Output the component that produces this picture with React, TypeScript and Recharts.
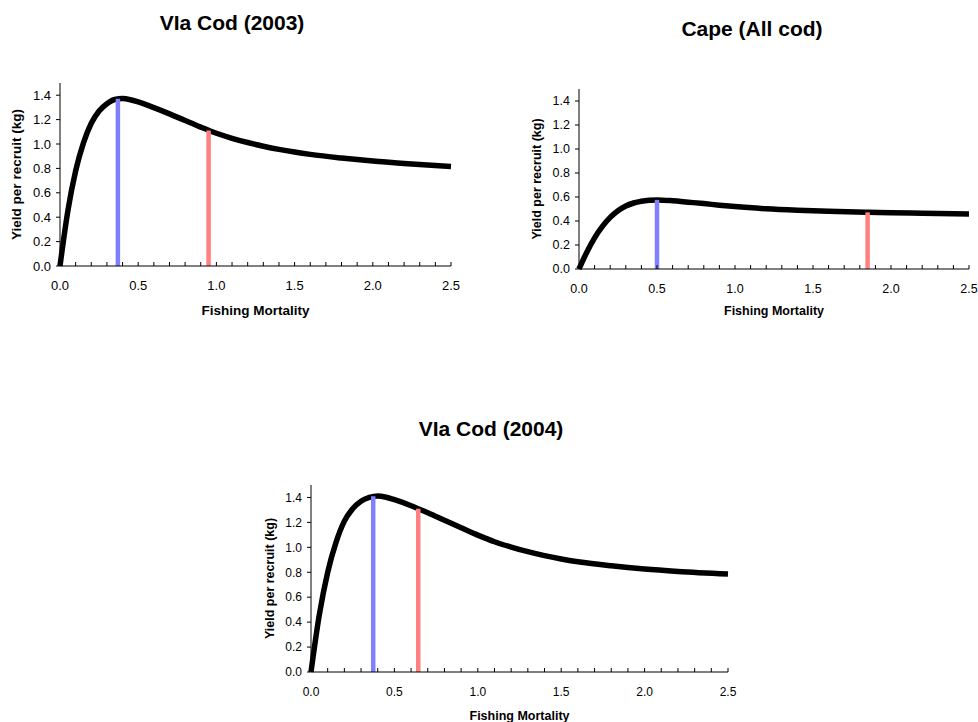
import { LineChart, Line, XAxis, YAxis, ReferenceLine, Label } from "recharts";

// fishing mortality grid + yield per recruit (kg)
const cod03F = [0, 0.05, 0.1, 0.15, 0.2, 0.25, 0.3, 0.35, 0.4, 0.45, 0.5, 0.6, 0.7, 0.8, 0.9, 1.0, 1.1, 1.2, 1.3, 1.4, 1.5, 1.6, 1.8, 2.0, 2.2, 2.5];
const cod03Y = [0, 0.45, 0.78, 1.01, 1.17, 1.27, 1.33, 1.365, 1.372, 1.363, 1.345, 1.298, 1.247, 1.192, 1.138, 1.088, 1.047, 1.012, 0.982, 0.956, 0.934, 0.915, 0.885, 0.86, 0.84, 0.815];

const capeF = [0, 0.05, 0.1, 0.15, 0.2, 0.25, 0.3, 0.35, 0.4, 0.45, 0.5, 0.6, 0.7, 0.8, 0.9, 1.0, 1.2, 1.4, 1.6, 1.85, 2.0, 2.2, 2.5];
const capeY = [0, 0.14, 0.26, 0.355, 0.43, 0.485, 0.525, 0.55, 0.565, 0.573, 0.576, 0.569, 0.557, 0.545, 0.532, 0.52, 0.502, 0.49, 0.481, 0.473, 0.469, 0.465, 0.459];

const cod04F = [0, 0.05, 0.1, 0.15, 0.2, 0.25, 0.3, 0.35, 0.4, 0.45, 0.5, 0.6, 0.7, 0.8, 0.9, 1.0, 1.1, 1.2, 1.3, 1.4, 1.5, 1.6, 1.8, 2.0, 2.2, 2.5];
const cod04Y = [0, 0.46, 0.8, 1.04, 1.21, 1.31, 1.37, 1.4, 1.412, 1.402, 1.382, 1.334, 1.277, 1.217, 1.157, 1.098, 1.045, 1.002, 0.965, 0.933, 0.907, 0.885, 0.852, 0.826, 0.807, 0.786];

// reference points [F, yield] : blue = Fmax, red = current F
const cod03Max = [0.37, 1.37];
const cod03Cur = [0.95, 1.11];
const capeMax = [0.5, 0.576];
const capeCur = [1.85, 0.472];
const cod04Max = [0.373, 1.41];
const cod04Cur = [0.643, 1.31];

const xTicks = [0, 0.1, 0.2, 0.3, 0.4, 0.5, 0.6, 0.7, 0.8, 0.9, 1.0, 1.1, 1.2, 1.3, 1.4, 1.5, 1.6, 1.7, 1.8, 1.9, 2.0, 2.1, 2.2, 2.3, 2.4, 2.5];
const yTicks = [0, 0.2, 0.4, 0.6, 0.8, 1.0, 1.2, 1.4];

const FONT = "'Liberation Sans', Arial, sans-serif";

interface ChartProps {
  f: number[];
  y: number[];
  fmax: number[];
  fcur: number[];
  left: number;
  top: number;
  width: number;
  height: number;
  margin: { top: number; right: number; bottom: number; left: number };
  yLabelOffset: number;
  xLabelOffset: number;
  tickFont: number;
  labelFont: number;
}

function YprChart(p: ChartProps) {
  const data = p.f.map((f, i) => ({ f, ypr: p.y[i] }));
  const labelStyle = {
    fontSize: p.labelFont,
    fontWeight: "bold",
    fontFamily: FONT,
    fill: "#000",
  };
  return (
    <div style={{ position: "absolute", left: p.left, top: p.top }}>
      <LineChart width={p.width} height={p.height} data={data} margin={p.margin}>
        <XAxis
          dataKey="f"
          type="number"
          domain={[0, 2.5]}
          ticks={xTicks}
          interval={0}
          tickFormatter={(v: number) =>
            Math.abs(v * 2 - Math.round(v * 2)) < 1e-6 ? v.toFixed(1) : ""
          }
          height={50}
          tickSize={-4}
          tickMargin={19}
          stroke="#000"
          tick={{ fill: "#000", fontSize: p.tickFont, fontFamily: FONT }}
        >
          <Label
            value="Fishing Mortality"
            position="insideBottom"
            offset={p.xLabelOffset}
            style={labelStyle}
          />
        </XAxis>
        <YAxis
          type="number"
          domain={[0, 1.5]}
          ticks={yTicks}
          interval={0}
          tickFormatter={(v: number) => v.toFixed(1)}
          width={45}
          tickSize={4}
          tickMargin={5}
          stroke="#000"
          tick={{ fill: "#000", fontSize: p.tickFont, fontFamily: FONT }}
        >
          <Label
            value="Yield per recruit (kg)"
            angle={-90}
            position="insideLeft"
            offset={p.yLabelOffset}
            style={{ ...labelStyle, textAnchor: "middle" }}
          />
        </YAxis>
        <Line
          type="monotone"
          dataKey="ypr"
          stroke="#000"
          strokeWidth={5.5}
          dot={false}
          isAnimationActive={false}
        />
        <ReferenceLine
          segment={[
            { x: p.fmax[0], y: 0 },
            { x: p.fmax[0], y: p.fmax[1] },
          ]}
          stroke="#8080ff"
          strokeWidth={4.5}
        />
        <ReferenceLine
          segment={[
            { x: p.fcur[0], y: 0 },
            { x: p.fcur[0], y: p.fcur[1] },
          ]}
          stroke="#ff8080"
          strokeWidth={4.5}
        />
      </LineChart>
    </div>
  );
}

function Title({ text, cx, cy }: { text: string; cx: number; cy: number }) {
  return (
    <div
      style={{
        position: "absolute",
        left: cx - 150,
        top: cy - 10,
        width: 300,
        textAlign: "center",
        fontFamily: FONT,
        fontWeight: "bold",
        fontSize: 21,
        lineHeight: "20px",
        color: "#000",
      }}
    >
      {text}
    </div>
  );
}

export default function App() {
  return (
    <div
      style={{
        position: "absolute",
        left: 0,
        top: 0,
        width: 978,
        height: 722,
        background: "#fff",
        overflow: "hidden",
      }}
    >
      <Title text="VIa Cod (2003)" cx={232} cy={23} />
      <Title text="Cape (All cod)" cx={752} cy={29} />
      <Title text="VIa Cod (2004)" cx={491} cy={429} />
      <YprChart
        f={cod03F}
        y={cod03Y}
        fmax={cod03Max}
        fcur={cod03Cur}
        left={0}
        top={0}
        width={470}
        height={330}
        margin={{ top: 83, right: 19, bottom: 14, left: 15 }}
        yLabelOffset={1}
        xLabelOffset={1.5}
        tickFont={13}
        labelFont={13.5}
      />
      <YprChart
        f={capeF}
        y={capeY}
        fmax={capeMax}
        fcur={capeCur}
        left={500}
        top={0}
        width={478}
        height={340}
        margin={{ top: 89, right: 9, bottom: 21, left: 34 }}
        yLabelOffset={3}
        xLabelOffset={4.5}
        tickFont={12.5}
        labelFont={12.5}
      />
      <YprChart
        f={cod04F}
        y={cod04Y}
        fmax={cod04Max}
        fcur={cod04Cur}
        left={240}
        top={400}
        width={500}
        height={322}
        margin={{ top: 85, right: 12, bottom: 0, left: 26 }}
        yLabelOffset={4}
        xLabelOffset={1.6}
        tickFont={12}
        labelFont={12.5}
      />
    </div>
  );
}
